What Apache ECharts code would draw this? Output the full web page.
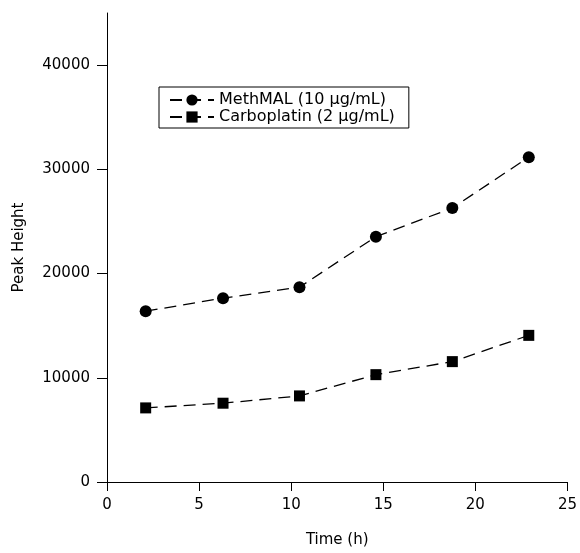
<!DOCTYPE html>
<html>
<head>
<meta charset="utf-8">
<script src="https://cdn.jsdelivr.net/npm/echarts@6/dist/echarts.min.js"></script>
<style>
  html, body { margin: 0; padding: 0; background: #fff; }
  #chart { width: 580px; height: 553px; }
</style>
</head>
<body>
<div id="chart"></div>
<script>
// time points (h) and peak heights
var timeH = [2.1, 6.3, 10.45, 14.6, 18.75, 22.9];
var methmal = [16390, 17640, 18690, 23540, 26290, 31170];
var carboplatin = [7110, 7560, 8260, 10300, 11550, 14070];
var seriesNames = ['MethMAL (10 µg/mL)', 'Carboplatin (2 µg/mL)'];
var yTicks = [0, 10000, 20000, 30000, 40000];

function pairs(xs, ys) {
  var res = [];
  for (var i = 0; i < xs.length; i++) {
    res.push([xs[i], ys[i]]);
  }
  return res;
}

var font = 'DejaVu Sans';
var chart = echarts.init(document.getElementById('chart'));

chart.setOption({
  animation: false,
  backgroundColor: '#fff',
  textStyle: { fontFamily: font, color: '#000' },
  grid: { left: 107, right: 11, top: 13, bottom: 70, containLabel: false },
  legend: {
    orient: 'vertical',
    left: 159,
    top: 87,
    padding: [5, 14, 3, 10],
    itemGap: 1,
    itemWidth: 44,
    itemHeight: 14,
    borderColor: '#000',
    borderWidth: 1,
    textStyle: { fontFamily: font, fontSize: 16, color: '#000' },
    data: seriesNames
  },
  xAxis: {
    type: 'value',
    min: 0,
    max: 25,
    interval: 5,
    name: 'Time (h)',
    nameLocation: 'middle',
    nameGap: 51,
    nameTextStyle: { fontFamily: font, fontSize: 15, color: '#000' },
    axisLine: { onZero: false, lineStyle: { color: '#000', width: 1 } },
    axisTick: { length: 9, lineStyle: { color: '#000' } },
    axisLabel: { margin: 16, fontFamily: font, fontSize: 15, color: '#000' },
    splitLine: { show: false }
  },
  yAxis: {
    type: 'value',
    min: 0,
    max: 45000,
    name: 'Peak Height',
    nameLocation: 'middle',
    nameGap: 80,
    nameTextStyle: { fontFamily: font, fontSize: 15, color: '#000' },
    axisLine: { show: true, onZero: false, lineStyle: { color: '#000', width: 1 } },
    axisTick: { show: true, length: 10, customValues: yTicks, lineStyle: { color: '#000' } },
    axisLabel: {
      margin: 17, fontFamily: font, fontSize: 15, color: '#000', customValues: yTicks,
      formatter: function (v) { return String(v); }
    },
    splitLine: { show: false }
  },
  series: [
    {
      name: seriesNames[0],
      type: 'line',
      data: pairs(timeH, methmal),
      symbol: 'circle',
      symbolSize: 12,
      itemStyle: { color: '#000' },
      lineStyle: { color: '#000', width: 1.3, type: [12, 7] }
    },
    {
      name: seriesNames[1],
      type: 'line',
      data: pairs(timeH, carboplatin),
      symbol: 'rect',
      symbolSize: 11,
      itemStyle: { color: '#000' },
      lineStyle: { color: '#000', width: 1.3, type: [12, 7] }
    }
  ]
});
</script>
</body>
</html>
